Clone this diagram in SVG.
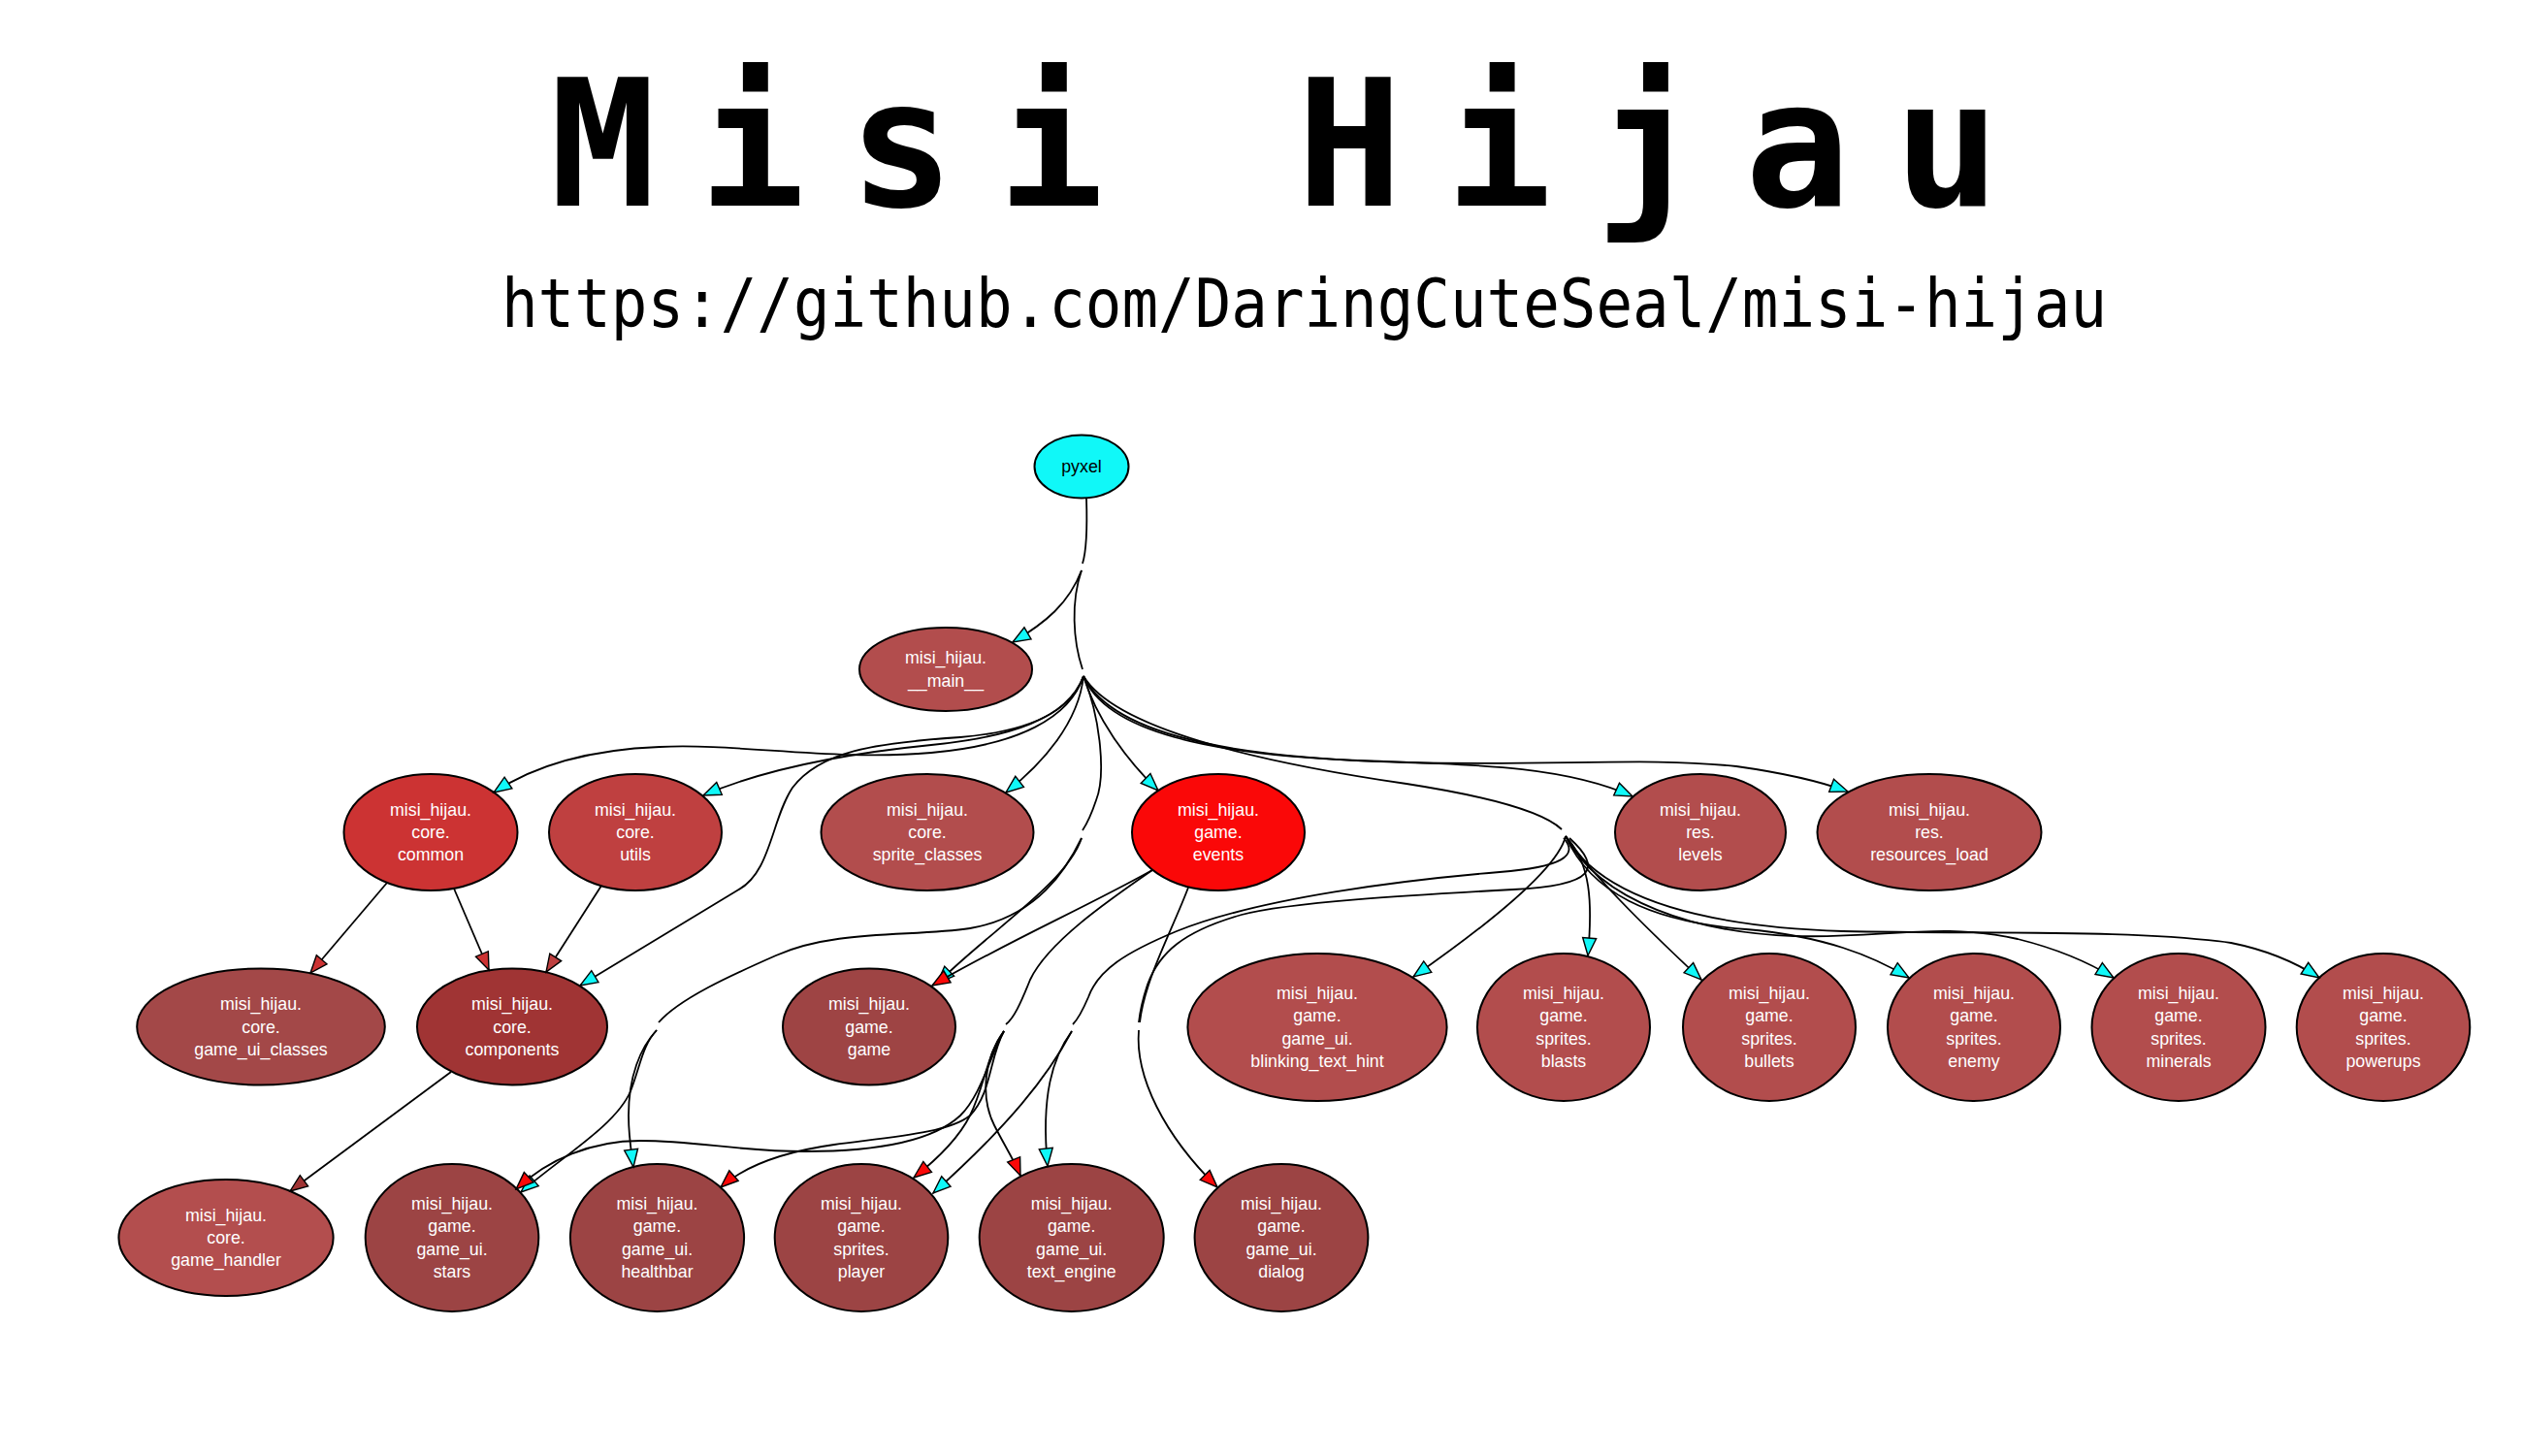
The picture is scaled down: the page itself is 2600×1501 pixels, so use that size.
<svg xmlns="http://www.w3.org/2000/svg" width="2600" height="1501" viewBox="0 0 2600 1501">
<style>
.bg{fill:#fff}
.n ellipse{stroke:#000;stroke-width:2}
.n text{font-family:"Liberation Sans",Arial,sans-serif;font-size:17.8px;fill:#fff;text-anchor:middle}
.e path{fill:none;stroke:#000;stroke-width:1.8}
.title{font-family:"DejaVu Sans Mono",monospace;font-size:181px;font-weight:bold;fill:#000}
.sub{font-family:"DejaVu Sans Mono",monospace;font-size:70px;fill:#000}
</style>
<defs>
<marker id="ac" viewBox="-2 -9 22 18" refX="18" refY="0" markerWidth="22" markerHeight="18" markerUnits="userSpaceOnUse" orient="auto"><path d="M0,-7 L18,0 L0,7 Z" fill="#10f8f8" stroke="#000" stroke-width="1.4"/></marker>
<marker id="ar" viewBox="-2 -9 22 18" refX="18" refY="0" markerWidth="22" markerHeight="18" markerUnits="userSpaceOnUse" orient="auto"><path d="M0,-7 L18,0 L0,7 Z" fill="#fa0808" stroke="#000" stroke-width="1.4"/></marker>
<marker id="acm" viewBox="-2 -9 22 18" refX="18" refY="0" markerWidth="22" markerHeight="18" markerUnits="userSpaceOnUse" orient="auto"><path d="M0,-7 L18,0 L0,7 Z" fill="#cc3333" stroke="#000" stroke-width="1.4"/></marker>
<marker id="aut" viewBox="-2 -9 22 18" refX="18" refY="0" markerWidth="22" markerHeight="18" markerUnits="userSpaceOnUse" orient="auto"><path d="M0,-7 L18,0 L0,7 Z" fill="#bf4040" stroke="#000" stroke-width="1.4"/></marker>
<marker id="aco" viewBox="-2 -9 22 18" refX="18" refY="0" markerWidth="22" markerHeight="18" markerUnits="userSpaceOnUse" orient="auto"><path d="M0,-7 L18,0 L0,7 Z" fill="#a03434" stroke="#000" stroke-width="1.4"/></marker>
</defs>
<rect class="bg" x="0" y="0" width="2600" height="1501"/>
<text class="title" x="567" y="212" letter-spacing="45">Misi Hijau</text>
<text class="sub" x="517" y="337" textLength="1655" lengthAdjust="spacingAndGlyphs">https://github.com/DaringCuteSeal/misi-hijau</text>

<g id="nodes">
<g id="pyxel" class="n"><ellipse cx="1115" cy="481" rx="48.5" ry="32.5" fill="#10f8f8"/><text x="1115" y="487" style="fill:#000">pyxel</text></g>
<g id="main" class="n"><ellipse cx="975" cy="690" rx="89" ry="43" fill="#b24d4d"/><text x="975" y="684.4">misi_hijau.</text><text x="975" y="707.7">__main__</text></g>
<g id="common" class="n"><ellipse cx="444" cy="858" rx="89.5" ry="60" fill="#cc3333"/><text x="444" y="840.7">misi_hijau.</text><text x="444" y="864">core.</text><text x="444" y="887.3">common</text></g>
<g id="utils" class="n"><ellipse cx="655" cy="858" rx="89" ry="60" fill="#bf4040"/><text x="655" y="840.7">misi_hijau.</text><text x="655" y="864">core.</text><text x="655" y="887.3">utils</text></g>
<g id="sprite_classes" class="n"><ellipse cx="956" cy="858" rx="109.5" ry="60" fill="#b24d4d"/><text x="956" y="840.7">misi_hijau.</text><text x="956" y="864">core.</text><text x="956" y="887.3">sprite_classes</text></g>
<g id="events" class="n"><ellipse cx="1256" cy="858" rx="89" ry="60" fill="#fa0808"/><text x="1256" y="840.7">misi_hijau.</text><text x="1256" y="864">game.</text><text x="1256" y="887.3">events</text></g>
<g id="levels" class="n"><ellipse cx="1753" cy="858" rx="88" ry="60" fill="#b24d4d"/><text x="1753" y="840.7">misi_hijau.</text><text x="1753" y="864">res.</text><text x="1753" y="887.3">levels</text></g>
<g id="resources_load" class="n"><ellipse cx="1989" cy="858" rx="115.5" ry="60" fill="#b24d4d"/><text x="1989" y="840.7">misi_hijau.</text><text x="1989" y="864">res.</text><text x="1989" y="887.3">resources_load</text></g>
<g id="game_ui_classes" class="n"><ellipse cx="269" cy="1058.5" rx="127.8" ry="60" fill="#a34848"/><text x="269" y="1041.2">misi_hijau.</text><text x="269" y="1064.5">core.</text><text x="269" y="1087.8">game_ui_classes</text></g>
<g id="components" class="n"><ellipse cx="528" cy="1058.5" rx="98" ry="60" fill="#a03434"/><text x="528" y="1041.2">misi_hijau.</text><text x="528" y="1064.5">core.</text><text x="528" y="1087.8">components</text></g>
<g id="game" class="n"><ellipse cx="896" cy="1058.5" rx="89" ry="60" fill="#9e4444"/><text x="896" y="1041.2">misi_hijau.</text><text x="896" y="1064.5">game.</text><text x="896" y="1087.8">game</text></g>
<g id="blinking_text_hint" class="n"><ellipse cx="1358" cy="1059" rx="133.6" ry="76" fill="#b24d4d"/><text x="1358" y="1030">misi_hijau.</text><text x="1358" y="1053.3">game.</text><text x="1358" y="1076.6">game_ui.</text><text x="1358" y="1099.9">blinking_text_hint</text></g>
<g id="blasts" class="n"><ellipse cx="1612" cy="1059" rx="89" ry="76" fill="#b24d4d"/><text x="1612" y="1030">misi_hijau.</text><text x="1612" y="1053.3">game.</text><text x="1612" y="1076.6">sprites.</text><text x="1612" y="1099.9">blasts</text></g>
<g id="bullets" class="n"><ellipse cx="1824" cy="1059" rx="89" ry="76" fill="#b24d4d"/><text x="1824" y="1030">misi_hijau.</text><text x="1824" y="1053.3">game.</text><text x="1824" y="1076.6">sprites.</text><text x="1824" y="1099.9">bullets</text></g>
<g id="enemy" class="n"><ellipse cx="2035" cy="1059" rx="89" ry="76" fill="#b24d4d"/><text x="2035" y="1030">misi_hijau.</text><text x="2035" y="1053.3">game.</text><text x="2035" y="1076.6">sprites.</text><text x="2035" y="1099.9">enemy</text></g>
<g id="minerals" class="n"><ellipse cx="2246" cy="1059" rx="89.5" ry="76" fill="#b24d4d"/><text x="2246" y="1030">misi_hijau.</text><text x="2246" y="1053.3">game.</text><text x="2246" y="1076.6">sprites.</text><text x="2246" y="1099.9">minerals</text></g>
<g id="powerups" class="n"><ellipse cx="2457" cy="1059" rx="89.3" ry="76" fill="#b24d4d"/><text x="2457" y="1030">misi_hijau.</text><text x="2457" y="1053.3">game.</text><text x="2457" y="1076.6">sprites.</text><text x="2457" y="1099.9">powerups</text></g>
<g id="game_handler" class="n"><ellipse cx="233" cy="1276" rx="110.6" ry="60" fill="#b34e4e"/><text x="233" y="1258.7">misi_hijau.</text><text x="233" y="1282">core.</text><text x="233" y="1305.3">game_handler</text></g>
<g id="stars" class="n"><ellipse cx="466" cy="1276" rx="89.3" ry="76" fill="#9c4444"/><text x="466" y="1247">misi_hijau.</text><text x="466" y="1270.3">game.</text><text x="466" y="1293.6">game_ui.</text><text x="466" y="1316.9">stars</text></g>
<g id="healthbar" class="n"><ellipse cx="677.5" cy="1276" rx="89.6" ry="76" fill="#9c4444"/><text x="677.5" y="1247">misi_hijau.</text><text x="677.5" y="1270.3">game.</text><text x="677.5" y="1293.6">game_ui.</text><text x="677.5" y="1316.9">healthbar</text></g>
<g id="player" class="n"><ellipse cx="888" cy="1276" rx="89.3" ry="76" fill="#9c4444"/><text x="888" y="1247">misi_hijau.</text><text x="888" y="1270.3">game.</text><text x="888" y="1293.6">sprites.</text><text x="888" y="1316.9">player</text></g>
<g id="text_engine" class="n"><ellipse cx="1104.7" cy="1276" rx="95" ry="76" fill="#9c4444"/><text x="1104.7" y="1247">misi_hijau.</text><text x="1104.7" y="1270.3">game.</text><text x="1104.7" y="1293.6">game_ui.</text><text x="1104.7" y="1316.9">text_engine</text></g>
<g id="dialog" class="n"><ellipse cx="1321" cy="1276" rx="89.4" ry="76" fill="#9c4444"/><text x="1321" y="1247">misi_hijau.</text><text x="1321" y="1270.3">game.</text><text x="1321" y="1293.6">game_ui.</text><text x="1321" y="1316.9">dialog</text></g>
</g>

<g id="edges" class="e">
<path d="M1120,514 C1121,545 1120,568 1116,581"/>
<path d="M1115,588 C1102,622 1078,642 1044,662" marker-end="url(#ac)"/>
<path d="M1115,588 C1104,620 1106,660 1116,690"/>
<path d="M1117,697 C1103,740 1050,768 960,776 C860,785 760,766 680,770 C600,773 545,793 509,817" marker-end="url(#ac)"/>
<path d="M1117,697 C1100,742 1040,760 960,768 C880,776 790,792 725,820" marker-end="url(#ac)"/>
<path d="M1117,697 C1103,738 1050,755 990,760 C900,766 845,775 817,812 C795,845 795,900 760,918 L598,1016" marker-end="url(#ac)"/>
<path d="M1117,697 C1112,745 1075,787 1037,817" marker-end="url(#ac)"/>
<path d="M1117,697 C1130,740 1160,782 1194,815" marker-end="url(#ac)"/>
<path d="M1117,697 C1140,755 1250,778 1400,784 C1510,788 1610,788 1683,821" marker-end="url(#ac)"/>
<path d="M1117,697 C1150,765 1300,782 1450,786 C1600,790 1700,780 1790,790 C1840,797 1875,805 1905,816" marker-end="url(#ac)"/>
<path d="M1117,697 C1150,752 1300,786 1450,808 C1540,822 1592,838 1610,855"/>
<path d="M1117,697 C1135,742 1140,800 1130,825 C1125,840 1120,850 1116,856"/>
<path d="M1115,864 C1100,910 1020,960 966,1014" marker-end="url(#ac)"/>
<path d="M1115,864 C1100,895 1070,945 1000,957 C940,966 860,958 800,985 C750,1007 700,1030 679,1054"/>
<path d="M677,1062 C660,1080 648,1110 648,1150 C648,1172 651,1188 653,1203" marker-end="url(#ac)"/>
<path d="M677,1062 C662,1078 660,1100 650,1125 C635,1160 580,1192 537,1229" marker-end="url(#ac)"/>
<path d="M1614,862 C1608,888 1560,935 1457,1007" marker-end="url(#ac)"/>
<path d="M1614,862 C1640,890 1642,930 1637,985" marker-end="url(#ac)"/>
<path d="M1614,862 C1640,900 1690,950 1754,1010" marker-end="url(#ac)"/>
<path d="M1614,862 C1640,920 1700,950 1800,958 C1880,965 1930,985 1968,1008" marker-end="url(#ac)"/>
<path d="M1614,862 C1650,930 1750,962 1850,965 C1940,968 2000,950 2080,968 C2120,978 2150,990 2179,1008" marker-end="url(#ac)"/>
<path d="M1614,862 C1650,925 1750,955 1900,960 C2050,963 2200,958 2300,972 C2340,980 2368,993 2391,1008" marker-end="url(#ac)"/>
<path d="M1612,864 C1628,882 1610,894 1546,899 C1450,907 1300,925 1213,960 C1160,982 1132,1000 1122,1028 C1116,1042 1110,1052 1106,1056"/>
<path d="M1618,864 C1652,895 1645,913 1560,917 C1450,923 1330,930 1280,943 C1220,960 1195,982 1183,1015 C1178,1030 1175,1045 1174,1054"/>
<path d="M1105,1063 C1085,1090 1073,1130 1080,1202" marker-end="url(#ac)"/>
<path d="M1105,1063 C1080,1110 1040,1160 962,1230" marker-end="url(#ac)"/>
<path d="M1188,897 C1120,935 1030,975 961,1016" marker-end="url(#ar)"/>
<path d="M1188,897 C1140,930 1080,972 1062,1010 C1052,1035 1045,1050 1037,1056"/>
<path d="M1225,915 C1208,960 1180,1010 1175,1054"/>
<path d="M1174,1062 C1170,1110 1200,1170 1255,1224" marker-end="url(#ar)"/>
<path d="M1035,1063 C1020,1090 1012,1128 990,1150 C960,1178 900,1187 830,1187 C760,1187 720,1176 660,1176 C610,1176 565,1195 532,1226" marker-end="url(#ar)"/>
<path d="M1035,1063 C1020,1090 1022,1128 1000,1150 C978,1168 920,1172 860,1180 C810,1187 770,1200 743,1224" marker-end="url(#ar)"/>
<path d="M1035,1063 C1018,1085 1015,1120 1000,1150 C990,1170 970,1192 942,1214" marker-end="url(#ar)"/>
<path d="M1035,1063 C1015,1090 1010,1130 1025,1160 C1035,1180 1045,1195 1052,1212" marker-end="url(#ar)"/>
<path d="M399,910 L320,1003" marker-end="url(#acm)"/>
<path d="M468,916 L504,1000" marker-end="url(#acm)"/>
<path d="M620,913 L563,1002" marker-end="url(#aut)"/>
<path d="M465,1105 L299,1228" marker-end="url(#aco)"/>
</g>
</svg>
